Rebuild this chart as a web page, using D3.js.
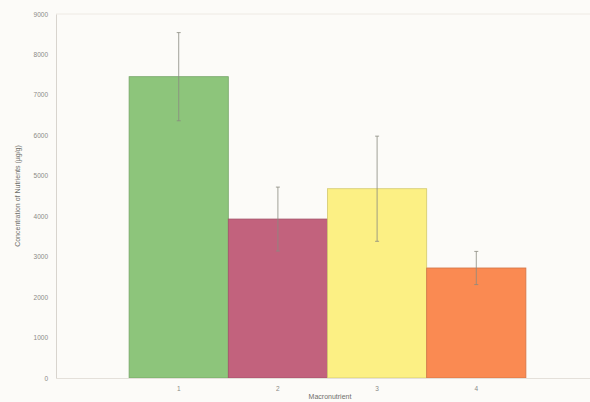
<!DOCTYPE html>
<html><head><meta charset="utf-8">
<script src="https://cdn.jsdelivr.net/npm/d3@7"></script>
<style>body{margin:0;background:#fcfbf8;}svg{display:block;}</style>
</head><body>
<svg id="c" width="590" height="402"></svg>
<script>
const categories = ["1","2","3","4"];
const values = [7450, 3930, 4680, 2720];
const errors = [1090, 790, 1300, 410];
const colors = ["#8dc57b","#c2627d","#fcf084","#fa8a52"];
const yTicks = [0,1000,2000,3000,4000,5000,6000,7000,8000,9000];

const svg = d3.select("#c");
const x = d3.scaleBand().domain(categories).range([56, 599]).paddingInner(0).paddingOuter(0.737);
const y = d3.scaleLinear().domain([0, 9000]).range([378, 14]);

svg.append("rect").attr("width",590).attr("height",402).attr("fill","#fcfbf8");
svg.append("line").attr("x1",56).attr("x2",590).attr("y1",y(9000)).attr("y2",y(9000)).attr("stroke","#eeeae4").attr("stroke-width",1);

svg.selectAll("rect.bar").data(values).join("rect").attr("class","bar")
  .attr("x",(d,i)=>x(categories[i])).attr("width",x.bandwidth())
  .attr("y",d=>y(d)).attr("height",d=>y(0)-y(d))
  .attr("fill",(d,i)=>colors[i]).attr("stroke",(d,i)=>d3.color(colors[i]).darker(0.5)).attr("stroke-width",0.8);

const eb = svg.append("g").attr("stroke","#8a8a80").attr("stroke-width",0.8);
values.forEach((v,i)=>{
  const cx = x(categories[i]) + x.bandwidth()/2;
  eb.append("line").attr("x1",cx).attr("x2",cx).attr("y1",y(v+errors[i])).attr("y2",y(v-errors[i]));
  eb.append("line").attr("x1",cx-2).attr("x2",cx+2).attr("y1",y(v+errors[i])).attr("y2",y(v+errors[i]));
  eb.append("line").attr("x1",cx-2).attr("x2",cx+2).attr("y1",y(v-errors[i])).attr("y2",y(v-errors[i]));
});

const ya = svg.append("g").attr("transform","translate(56,0)")
  .call(d3.axisLeft(y).tickValues(yTicks).tickSize(0).tickPadding(8).tickFormat(d3.format("d")));
ya.select(".domain").attr("stroke","#d8d4ce");
ya.selectAll("text").attr("fill","#8a8a86").attr("font-size",6.5).attr("font-family","Liberation Sans, Arial, sans-serif");

const xa = svg.append("g").attr("transform","translate(0,378)")
  .call(d3.axisBottom(x).tickSize(0).tickPadding(8));
xa.select(".domain").attr("stroke","#e4e0da").attr("d","M56,0.5H590");
xa.selectAll("text").attr("fill","#8a8a86").attr("font-size",6.5).attr("font-family","Liberation Sans, Arial, sans-serif");

svg.append("text").attr("x",330).attr("y",399).attr("text-anchor","middle")
  .attr("font-size",7).attr("fill","#6e6e6a").attr("font-family","Liberation Sans, Arial, sans-serif").text("Macronutrient");
svg.append("text").attr("transform","translate(20,196) rotate(-90)").attr("text-anchor","middle")
  .attr("font-size",7).attr("fill","#6e6e6a").attr("font-family","Liberation Sans, Arial, sans-serif").text("Concentration of Nutrients  (µg/g)");
</script>
</body></html>
